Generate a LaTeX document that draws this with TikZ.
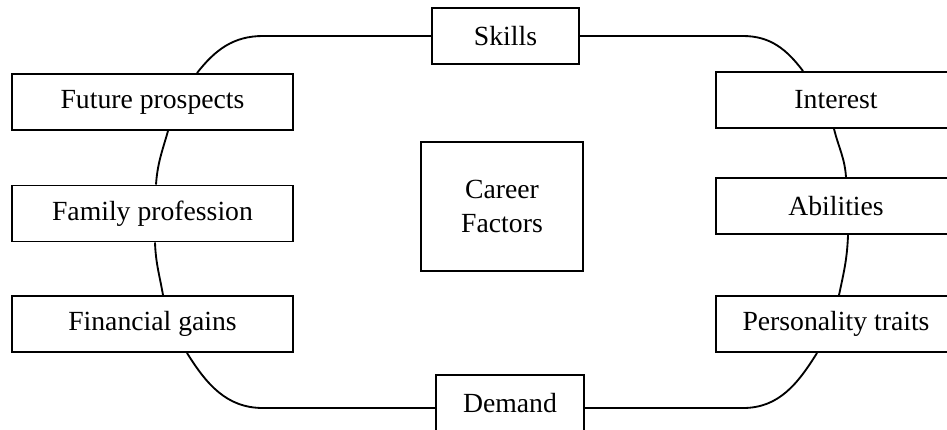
\documentclass[tikz,border=0pt]{standalone}
\usepackage{fontspec}
\setmainfont{Liberation Serif}
\usetikzlibrary{calc}

\begin{document}
\begin{tikzpicture}[x=0.4332pt,y=0.4332pt,line width=0.8pt,
    factor/.style={draw,fill=white,inner sep=0pt,minimum height=24.3pt,
        font=\fontsize{12}{15}\selectfont}]
    \useasboundingbox (0,0) rectangle (947,429);
    \clip (0,0) rectangle (947,429);
    % boxes
    \node[factor,minimum width=63.7pt] (skills) at (505.5,393) {Skills};
    \node[factor,minimum width=121.7pt] (future) at (152.5,327) {Future prospects};
    \node[factor,minimum width=121.7pt] (family) at (152.5,215.5) {Family profession};
    \node[factor,minimum width=121.7pt] (financial) at (152.5,105) {Financial gains};
    \node[factor,minimum width=64.1pt] (demand) at (510,26) {Demand};
    \node[factor,minimum width=104pt] (interest) at (836,329) {Interest};
    \node[factor,minimum width=104pt] (abilities) at (836,223) {Abilities};
    \node[factor,minimum width=104pt] (personality) at (836,105) {Personality traits};
    \node[factor,minimum width=70.2pt,minimum height=55.9pt,align=center] (career) at (502,222.5) {Career\\Factors};
    % connectors
    \draw (skills.west) -- (263,393) to[out=180,in=52] ($(future.north)+(44.5,0)$);
    \draw ($(future.south)+(15.5,0)$) to[out=-106,in=86] ($(family.north)+(3.5,0)$);
    \draw ($(family.south)+(2.5,0)$) to[out=-88,in=100] ($(financial.north)+(10.5,0)$);
    \draw ($(financial.south)+(34.5,0)$) to[out=-58,in=180] (263,21) -- ($(demand.west)+(0,-5)$);
    \draw ($(demand.east)+(0,-5)$) -- (743,21) to[out=0,in=-122] ($(personality.south)+(-19,0)$);
    \draw ($(personality.north)+(3,0)$) to[out=78,in=-92] ($(abilities.south)+(12,0)$);
    \draw ($(abilities.north)+(10,0)$) to[out=94,in=-76] ($(interest.south)+(-2,0)$);
    \draw ($(interest.north)+(-33,0)$) to[out=127,in=0] (743,393) -- (skills.east);
\end{tikzpicture}
\end{document}
